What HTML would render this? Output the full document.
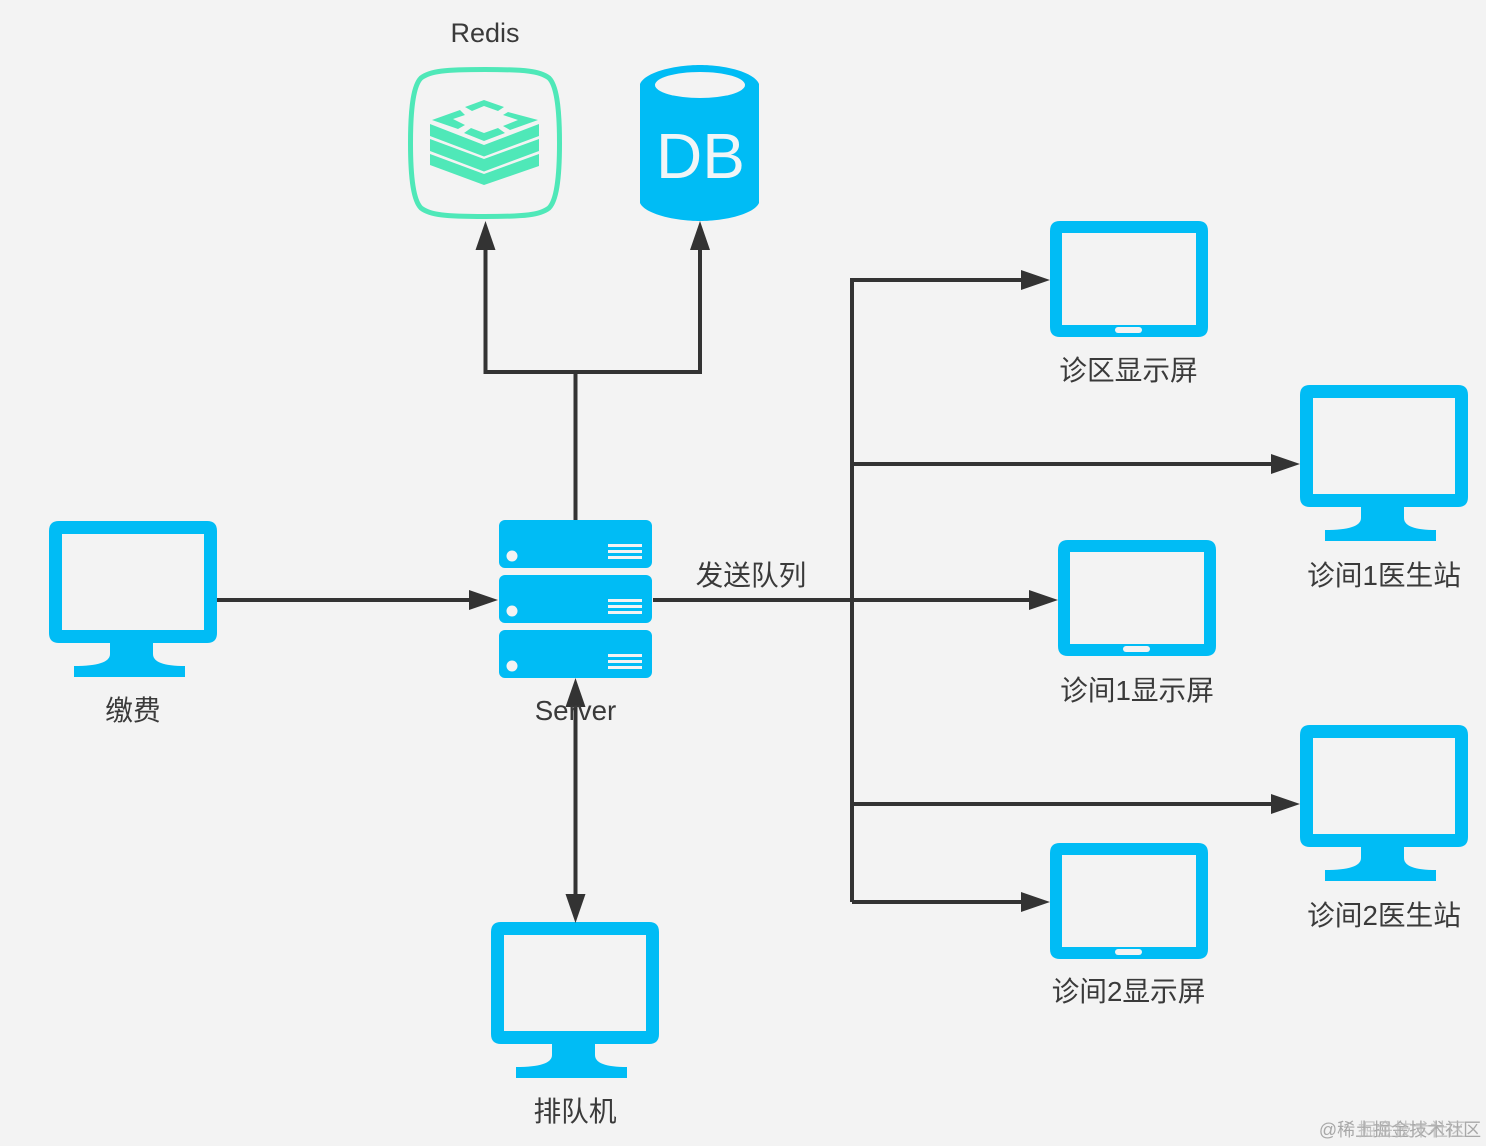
<!DOCTYPE html>
<html><head><meta charset="utf-8"><style>
html,body{margin:0;padding:0;background:#f3f3f3}
svg{display:block}
text{font-family:"Liberation Sans","Noto Sans CJK SC",sans-serif;font-size:27.7px;fill:#3a3a3a;text-anchor:middle}
</style></head><body>
<svg width="1486" height="1146" viewBox="0 0 1486 1146" xmlns="http://www.w3.org/2000/svg">
<defs>
<g id="mon">
<path fill="#00bcf5" fill-rule="evenodd" d="M10 0H158Q168 0 168 10V112Q168 122 158 122H104V133Q104 145 136 145V156H25V145Q61 145 61 133V122H10Q0 122 0 112V10Q0 0 10 0ZM13 13V109H155V13Z"/>
</g>
<g id="tab">
<path fill="#00bcf5" fill-rule="evenodd" d="M10 0H148Q158 0 158 10V106Q158 116 148 116H10Q0 116 0 106V10Q0 0 10 0ZM12 12V104H146V12Z"/>
<rect x="65" y="106" width="27" height="6" rx="3" fill="#f3f3f3"/>
</g>
<g id="srv">
<rect width="153" height="48" rx="6" fill="#00bcf5"/>
<circle cx="13" cy="36" r="5.5" fill="#f3f3f3"/>
<rect x="109" y="24" width="34" height="3" fill="#f3f3f3"/>
<rect x="109" y="30" width="34" height="3" fill="#f3f3f3"/>
<rect x="109" y="36" width="34" height="3" fill="#f3f3f3"/>
</g>
</defs>
<rect width="1486" height="1146" fill="#f3f3f3"/>

<use href="#mon" x="49" y="521"/>
<use href="#mon" x="1300" y="385"/>
<use href="#mon" x="1300" y="725"/>
<use href="#mon" x="491" y="922"/>
<use href="#tab" x="1050" y="221"/>
<use href="#tab" x="1058" y="540"/>
<use href="#tab" x="1050" y="843"/>
<use href="#srv" x="499" y="520"/>
<use href="#srv" x="499" y="575"/>
<use href="#srv" x="499" y="630"/>

<!-- Redis -->
<path d="M485 69.5C525 69.5 540 71 549 78C556 85 559.5 105 559.5 143C559.5 181 556 201 549 208C540 215 525 216.5 485 216.5C445 216.5 430 215 421 208C414 201 410.5 181 410.5 143C410.5 105 414 85 421 78C430 71 445 69.5 485 69.5Z" fill="none" stroke="#4fe8b8" stroke-width="5"/>
<g fill="#4fe8b8">
<polygon points="430,154 484,174 539,154 539,166 484,185 430,165"/>
<polygon points="430,139 484,159 539,139 539,151 484,171.500 430,151"/>
<polygon points="430,124 484,145 539,124 539,136 484,156.500 430,136"/>
<polygon points="432,120 460,110 465,115 453,119 465,125 458,129"/>
<polygon points="465,107 484,100 504,107 498,111 484,106 472,111"/>
<polygon points="508,112 538,120 510,130 503,126 518,120 503,115"/>
<polygon points="464,133 471,128 484,133 498,128 505,133 484,141"/>
</g>

<!-- DB -->
<path fill="#00bcf5" d="M640 84C645 72 675 65 700 65C725 65 754 72 759 84V203C754 214 725 221 700 221C675 221 645 214 640 203Z"/>
<ellipse cx="700" cy="85" rx="45" ry="13" fill="#f3f3f3"/>
<text x="700.500" y="178" style="font-size:64px;fill:#f0f5f7">DB</text>

<!-- connectors -->
<g fill="none" stroke="#333" stroke-width="4">
<path d="M575.5 520V372M485.5 250V372H700V250"/>
<path d="M217 600H472"/>
<path d="M653 600H1032"/>
<path d="M852 902V280H1024"/>
<path d="M852 464H1274"/>
<path d="M852 804H1274"/>
<path d="M852 902H1024"/>
<path d="M575.5 700V900"/>
</g>
<g fill="#333">
<polygon points="485.5,221 475.5,250 495.5,250"/>
<polygon points="700,221 690,250 710,250"/>
<polygon points="498,600 469,590 469,610"/>
<polygon points="1058,600 1029,590 1029,610"/>
<polygon points="1050,280 1021,270 1021,290"/>
<polygon points="1300,464 1271,454 1271,474"/>
<polygon points="1300,804 1271,794 1271,814"/>
<polygon points="1050,902 1021,892 1021,912"/>
<polygon points="575.5,678 565.5,707 585.5,707"/>
<polygon points="575.5,923 565.5,894 585.5,894"/>
</g>

<!-- labels -->
<text x="485" y="42" style="font-size:27px">Redis</text>
<text x="133" y="720">缴费</text>
<text x="575.500" y="720">Server</text>
<text x="751" y="585">发送队列</text>
<text x="1128.500" y="380">诊区显示屏</text>
<text x="1384" y="585">诊间1医生站</text>
<text x="1137" y="700">诊间1显示屏</text>
<text x="1384" y="925">诊间2医生站</text>
<text x="1128.500" y="1001">诊间2显示屏</text>
<text x="575" y="1121">排队机</text>

<!-- watermark -->
<text x="1400" y="1136" style="font-size:18px;fill:#a8a8a8">@稀土掘金技术社区</text>
<text x="1412" y="1136" style="font-size:18px;fill:#b8b8b8;opacity:.8">掘金技术社区</text>
</svg>
</body></html>
